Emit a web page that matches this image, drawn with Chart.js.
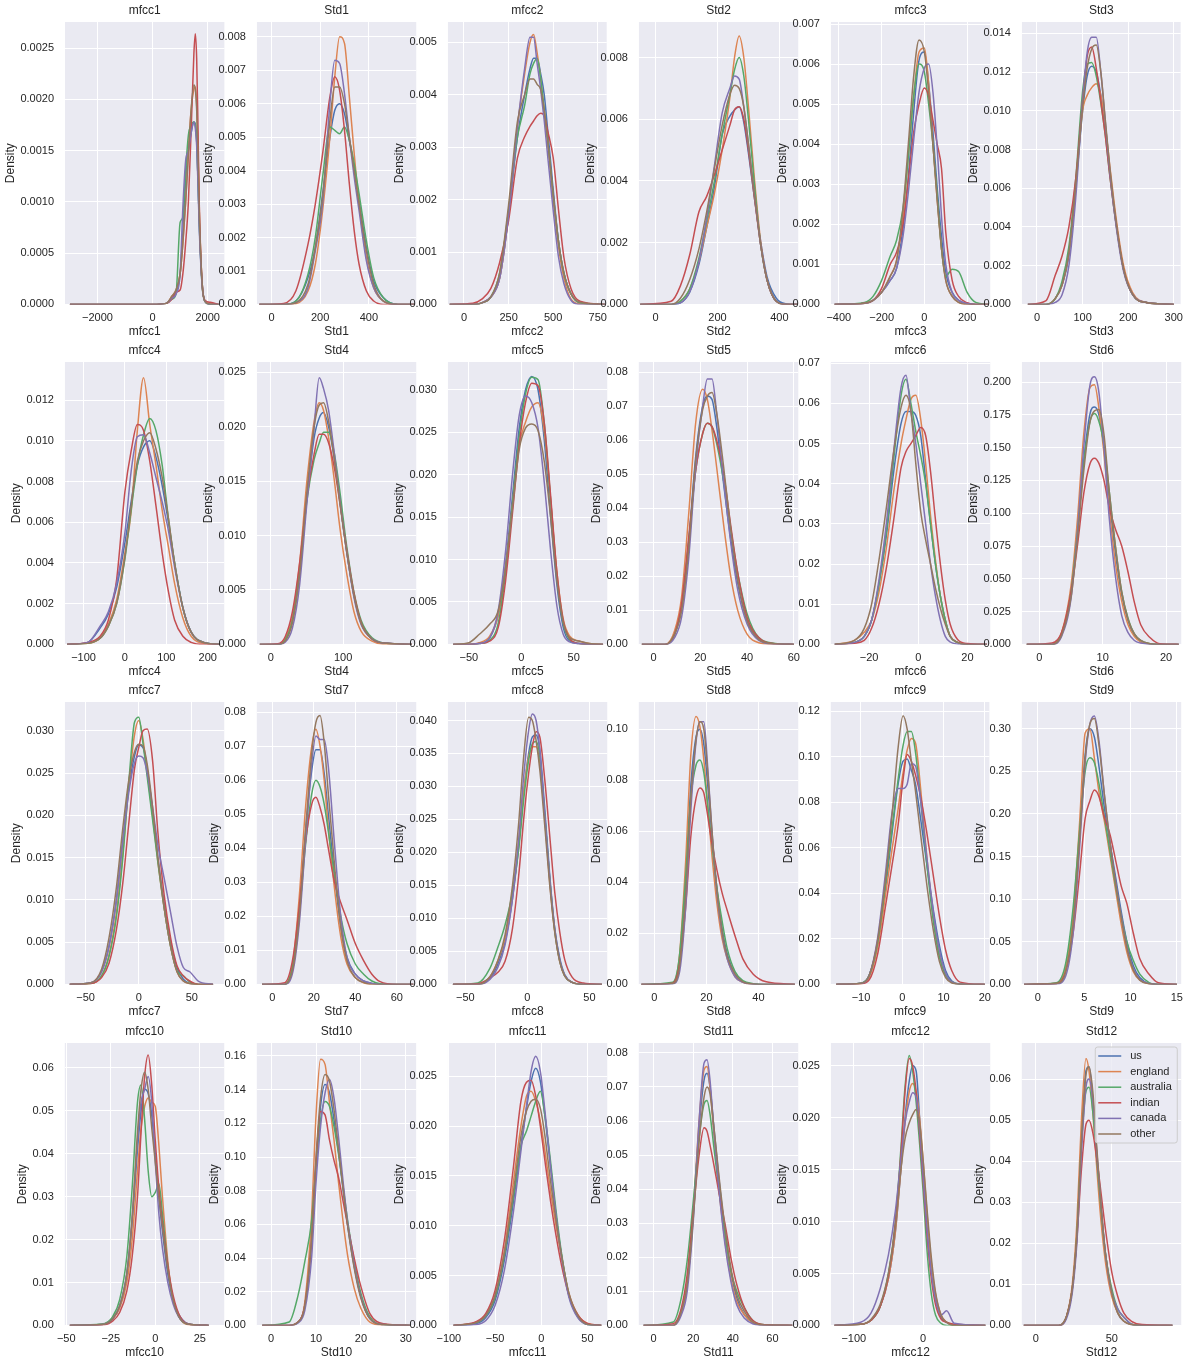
<!DOCTYPE html>
<html><head><meta charset="utf-8">
<script src="https://cdn.jsdelivr.net/npm/chart.js@4/dist/chart.umd.min.js"></script>
<style>
html,body{margin:0;padding:0;background:#ffffff;}
#fig{position:relative;width:1189px;height:1366px;overflow:hidden;background:#ffffff;}
.cell{position:absolute;}
.cell canvas{display:block;}
</style>
</head><body><div id="fig"></div>
<script>
// ---------------- DATA ----------------
const panelNames = ["mfcc1","Std1","mfcc2","Std2","mfcc3","Std3",
  "mfcc4","Std4","mfcc5","Std5","mfcc6","Std6",
  "mfcc7","Std7","mfcc8","Std8","mfcc9","Std9",
  "mfcc10","Std10","mfcc11","Std11","mfcc12","Std12"];
const seriesNames = ["us","england","australia","indian","canada","other"];
const seriesColors = ["#4C72B0","#DD8452","#55A868","#C44E52","#8172B3","#937860"];

// x positions at which each panel's curves were read
const xGrid = [
 [-3000,0,500,700,850,1000,1100,1200,1300,1400,1500,1550,1600,1650,1700,1800,1900,2100,2400],
 [-50,50,100,150,180,210,240,260,280,300,320,340,360,390,420,460,520,590],
 [-80,50,100,150,200,250,300,340,370,390,410,430,450,470,500,530,560,600,650,790],
 [-50,50,80,110,140,165,190,215,240,255,270,285,300,320,340,360,390,420,460],
 [-420,-280,-240,-200,-160,-130,-100,-75,-50,-25,0,20,40,60,80,100,130,160,200,240,300],
 [-20,20,40,55,70,85,100,110,120,130,140,150,160,175,190,210,240,300],
 [-140,-90,-60,-40,-20,0,15,30,45,60,75,90,105,120,140,160,190,230],
 [-15,10,20,30,40,50,60,67,73,80,88,96,105,115,125,140,160,195],
 [-65,-50,-40,-30,-22,-15,-8,-2,4,10,16,22,28,34,40,46,55,65,78],
 [-5,5,9,12,15,18,21,23,25,27,30,33,36,40,45,52,60],
 [-34,-26,-22,-19,-16,-13,-10,-7,-5,-3,-1,1,3,5,7,9,11,13,16,20,28],
 [-2,2,3.5,5,6,7,8,8.7,9.4,10.2,11,12,13,14,15,16,17.5,19,22],
 [-65,-45,-35,-28,-21,-15,-9,-4,0,4,8,13,18,24,30,36,42,48,56,70],
 [-5,6,10,13,16,19,21,23,25,27,30,33,36,40,44,48,52,60,68],
 [-60,-40,-30,-24,-18,-12,-7,-3,1,4,7,10,14,18,22,26,30,36,45,60],
 [-5,7,9.5,12,14,16,17.5,19,20.5,22,24,26,28,31,34,38,43,54],
 [-16,-10,-8,-6,-4,-2.5,-1,0.2,1.2,2.2,3.2,4.5,6,7.5,9,10.5,12,14,20],
 [-1.5,2,3,3.8,4.5,5.1,5.6,6.1,6.6,7.2,7.8,8.4,9,9.6,10.3,11,12,13,15],
 [-48,-30,-24,-20,-16,-13,-10,-8,-6,-4,-2,0,2,4,7,10,14,20,30],
 [-2,4,6,7.5,9,10,11,12,13,14,15,16,17,18.5,20,22,25,31],
 [-95,-70,-60,-50,-40,-30,-22,-16,-11,-6,-1,4,10,16,22,30,40,50,65],
 [-5,10,14,17,20,23,25.5,27,28.5,30.5,33,36,39,42,46,50,56,70],
 [-128,-90,-75,-62,-50,-40,-32,-26,-20,-15,-10,-5,0,6,12,18,26,34,45,90],
 [-8,15,20,24,27,30,33,35,37.5,40,43,46,50,54,58,63,70,90]
];

const us = [
 [0,0,0.00001,0.00006,0.00012,0.0003,0.0007,0.0012,0.0015,0.00168,0.00178,0.00176,0.0016,0.0012,0.00075,0.0002,0.00003,0,0],
 [0,0,0.0001,0.0008,0.0017,0.0033,0.005,0.0058,0.006,0.0057,0.0049,0.0041,0.0031,0.0017,0.0007,0.0002,0,0],
 [0,0,0.00003,0.00014,0.0005,0.0017,0.0032,0.004,0.0045,0.0047,0.0047,0.0044,0.004,0.0033,0.0022,0.0012,0.0006,0.0002,0.00003,0],
 [0,0,0.00005,0.0004,0.0013,0.0025,0.0038,0.0055,0.0061,0.0063,0.0064,0.0059,0.0049,0.0034,0.002,0.0009,0.0002,0.00002,0],
 [0,0.00003,0.0001,0.0003,0.0006,0.0009,0.0019,0.0032,0.0048,0.0061,0.0063,0.0055,0.0043,0.0029,0.0017,0.0008,0.0003,0.0001,0.00002,0,0],
 [0,0,0.0003,0.001,0.0025,0.006,0.01,0.0118,0.0123,0.012,0.0108,0.009,0.0068,0.004,0.0018,0.0005,0.0001,0],
 [0,0.0001,0.0008,0.0015,0.0028,0.005,0.007,0.0088,0.0097,0.01,0.0092,0.0078,0.006,0.004,0.0018,0.0006,0.0001,0],
 [0,0,0.0004,0.0022,0.0065,0.0135,0.019,0.0208,0.0213,0.02,0.017,0.013,0.0085,0.0045,0.002,0.0005,0.0001,0],
 [0,0,0.0001,0.0008,0.0035,0.0095,0.018,0.0255,0.03,0.0316,0.03,0.024,0.015,0.007,0.002,0.0004,0.0001,0,0],
 [0,0,0.003,0.011,0.03,0.055,0.07,0.073,0.072,0.064,0.047,0.031,0.018,0.007,0.0015,0.0002,0],
 [0,0.0005,0.002,0.006,0.015,0.027,0.043,0.055,0.058,0.058,0.057,0.052,0.041,0.03,0.02,0.012,0.006,0.002,0.0005,0,0],
 [0,0,0.008,0.04,0.085,0.14,0.176,0.181,0.175,0.15,0.112,0.07,0.038,0.018,0.007,0.002,0.0003,0,0],
 [0,0.0002,0.0015,0.0045,0.01,0.017,0.0235,0.027,0.0283,0.028,0.0255,0.0205,0.015,0.0095,0.005,0.002,0.0006,0.0001,0,0],
 [0,0,0.006,0.022,0.045,0.063,0.069,0.069,0.062,0.05,0.032,0.017,0.008,0.003,0.001,0.0003,0,0,0],
 [0,0,0.001,0.003,0.0065,0.013,0.021,0.029,0.035,0.0375,0.0378,0.0355,0.0265,0.0165,0.0085,0.004,0.0015,0.0003,0,0],
 [0,0.0005,0.008,0.04,0.078,0.097,0.1,0.094,0.078,0.06,0.038,0.022,0.012,0.004,0.001,0.0002,0,0],
 [0,0.0005,0.004,0.018,0.043,0.066,0.088,0.098,0.099,0.094,0.088,0.072,0.052,0.033,0.017,0.006,0.0015,0.0002,0],
 [0,0.001,0.018,0.075,0.175,0.27,0.3,0.29,0.255,0.205,0.165,0.125,0.085,0.05,0.022,0.008,0.001,0,0],
 [0,0.0002,0.0015,0.0045,0.012,0.024,0.041,0.05,0.055,0.054,0.049,0.04,0.03,0.022,0.012,0.006,0.002,0.0002,0],
 [0,0,0.002,0.012,0.05,0.095,0.13,0.143,0.138,0.122,0.103,0.081,0.06,0.035,0.017,0.004,0.0005,0],
 [0,0.0002,0.0008,0.0025,0.0065,0.0125,0.018,0.0218,0.0245,0.0258,0.0245,0.021,0.016,0.011,0.007,0.003,0.0008,0.0001,0],
 [0,0,0.004,0.012,0.032,0.058,0.072,0.074,0.07,0.058,0.043,0.028,0.016,0.008,0.003,0.0008,0.0001,0],
 [0,0.0001,0.0005,0.0018,0.0045,0.009,0.015,0.02,0.0235,0.025,0.0245,0.02,0.015,0.009,0.005,0.0025,0.0008,0.0003,0,0],
 [0,0,0.002,0.009,0.022,0.045,0.062,0.063,0.055,0.042,0.028,0.017,0.008,0.003,0.001,0.0002,0,0]
];
const england = [
 [0,0,0.00001,0.00008,0.00014,0.0003,0.0006,0.001,0.0015,0.0019,0.0021,0.00212,0.00195,0.0015,0.0009,0.0002,0.00003,0.00001,0],
 [0,0,0.00002,0.0004,0.0012,0.0028,0.005,0.0068,0.008,0.0078,0.0062,0.0045,0.003,0.0014,0.0005,0.0001,0,0],
 [0,0,0.00003,0.00014,0.0005,0.0017,0.0034,0.0044,0.005,0.00515,0.0048,0.0043,0.0037,0.0031,0.002,0.0011,0.0005,0.0001,0.00001,0],
 [0,0,0.0001,0.0005,0.0014,0.0025,0.0036,0.005,0.0067,0.008,0.0087,0.008,0.0064,0.004,0.002,0.0008,0.0001,0,0],
 [0,0.00003,0.0001,0.0003,0.0007,0.0011,0.0022,0.0037,0.0052,0.0063,0.0064,0.0055,0.004,0.0026,0.0014,0.0006,0.0002,0.00005,0,0,0],
 [0,0,0.0003,0.001,0.0027,0.0062,0.01,0.0108,0.0112,0.0114,0.0108,0.0092,0.0071,0.0042,0.002,0.0006,0.0001,0],
 [0,0.00005,0.0003,0.001,0.0022,0.0045,0.0065,0.0105,0.0131,0.0108,0.0088,0.0066,0.0048,0.003,0.0013,0.0004,0.00005,0],
 [0,0,0.0005,0.0025,0.0075,0.015,0.0205,0.0222,0.0215,0.019,0.015,0.0105,0.0065,0.003,0.0012,0.0003,0,0],
 [0,0,0.0002,0.001,0.0035,0.009,0.017,0.0235,0.0262,0.028,0.0285,0.025,0.017,0.0085,0.003,0.001,0.0004,0.0001,0],
 [0,0,0.004,0.014,0.038,0.065,0.075,0.072,0.063,0.052,0.035,0.02,0.01,0.003,0.0005,0,0],
 [0,0.001,0.003,0.006,0.013,0.024,0.038,0.05,0.056,0.061,0.062,0.056,0.045,0.032,0.021,0.012,0.006,0.002,0.0005,0,0],
 [0,0,0.009,0.045,0.095,0.16,0.196,0.198,0.18,0.145,0.105,0.062,0.033,0.015,0.006,0.002,0.0003,0,0],
 [0,0.0001,0.001,0.0035,0.0085,0.0155,0.024,0.0295,0.0312,0.029,0.025,0.02,0.0145,0.009,0.0045,0.0015,0.0004,0.0001,0,0],
 [0,0,0.007,0.026,0.052,0.07,0.075,0.07,0.06,0.046,0.028,0.014,0.006,0.002,0.0005,0,0,0,0],
 [0,0,0.0012,0.0035,0.007,0.0135,0.0215,0.029,0.0345,0.036,0.036,0.0335,0.025,0.0155,0.008,0.0035,0.0013,0.0003,0,0],
 [0,0.0005,0.01,0.048,0.09,0.105,0.101,0.088,0.07,0.052,0.032,0.018,0.01,0.003,0.0008,0.0001,0,0],
 [0,0.0004,0.003,0.016,0.04,0.059,0.077,0.093,0.103,0.108,0.106,0.085,0.055,0.03,0.013,0.004,0.001,0.0001,0],
 [0,0.001,0.02,0.08,0.19,0.295,0.3,0.265,0.225,0.19,0.15,0.11,0.07,0.038,0.015,0.005,0.0008,0,0],
 [0,0.0002,0.0015,0.004,0.01,0.02,0.036,0.046,0.051,0.053,0.052,0.051,0.042,0.03,0.015,0.006,0.0015,0.0001,0],
 [0,0,0.002,0.014,0.065,0.125,0.158,0.155,0.132,0.11,0.085,0.062,0.042,0.022,0.01,0.002,0.0002,0],
 [0,0.0003,0.001,0.003,0.0075,0.0145,0.02,0.023,0.0235,0.0225,0.0205,0.0175,0.0135,0.01,0.0068,0.0032,0.001,0.0002,0],
 [0,0,0.004,0.012,0.033,0.06,0.075,0.076,0.07,0.056,0.04,0.025,0.014,0.007,0.003,0.0008,0.0001,0],
 [0,0.0001,0.0005,0.0018,0.0045,0.009,0.015,0.0195,0.0225,0.0233,0.0225,0.02,0.016,0.0105,0.006,0.003,0.001,0.0003,0,0],
 [0,0,0.002,0.01,0.025,0.05,0.065,0.062,0.052,0.039,0.025,0.015,0.007,0.003,0.001,0.0002,0,0]
];
const australia = [
 [0,0,0.00001,0.00005,0.0001,0.0008,0.00085,0.0013,0.00165,0.00175,0.00178,0.00175,0.0016,0.0012,0.00075,0.00018,0.00003,0,0],
 [0,0,0.0001,0.0009,0.002,0.0038,0.0053,0.0052,0.0051,0.0053,0.0049,0.0042,0.0033,0.0019,0.0008,0.0002,0,0],
 [0,0,0.00003,0.00014,0.0006,0.0018,0.0032,0.0038,0.0044,0.0046,0.0047,0.0043,0.0037,0.0031,0.0021,0.0012,0.0006,0.0002,0.00003,0],
 [0,0,0.0001,0.0005,0.0015,0.0027,0.004,0.0055,0.0068,0.0076,0.008,0.0074,0.006,0.0038,0.0019,0.0008,0.0001,0,0],
 [0,0.00005,0.0002,0.0006,0.0012,0.0016,0.0024,0.0037,0.0052,0.006,0.0058,0.005,0.004,0.0027,0.0014,0.0007,0.00088,0.00082,0.0003,0.00005,0],
 [0,0,0.0003,0.0012,0.003,0.0065,0.011,0.0124,0.0125,0.0118,0.0104,0.0087,0.0066,0.0039,0.0018,0.0005,0.0001,0],
 [0,0.00005,0.0003,0.0009,0.002,0.0042,0.0066,0.0088,0.0103,0.0111,0.0105,0.0088,0.0062,0.004,0.0018,0.0006,0.0001,0],
 [0,0,0.0004,0.0022,0.0068,0.0132,0.017,0.0185,0.0195,0.0195,0.0175,0.0138,0.009,0.0048,0.0022,0.0006,0.0001,0],
 [0,0,0.0001,0.0005,0.0025,0.0085,0.017,0.0245,0.0295,0.0315,0.0312,0.026,0.017,0.008,0.0025,0.0006,0.0001,0,0],
 [0,0,0.003,0.011,0.03,0.051,0.062,0.065,0.064,0.059,0.048,0.034,0.021,0.009,0.002,0.0003,0],
 [0,0.0005,0.002,0.006,0.015,0.028,0.046,0.062,0.066,0.06,0.053,0.047,0.04,0.03,0.02,0.012,0.006,0.002,0.0005,0,0],
 [0,0,0.008,0.04,0.085,0.138,0.17,0.176,0.17,0.152,0.118,0.075,0.04,0.02,0.008,0.003,0.0005,0,0],
 [0,0.0001,0.001,0.0033,0.008,0.015,0.0245,0.031,0.0316,0.0285,0.0245,0.0195,0.0145,0.009,0.0045,0.0016,0.001,0.0003,0,0],
 [0,0,0.006,0.021,0.041,0.056,0.06,0.058,0.053,0.045,0.032,0.02,0.012,0.006,0.003,0.001,0.0002,0,0],
 [0,0.0002,0.0025,0.0055,0.009,0.014,0.0205,0.028,0.034,0.0365,0.0368,0.0345,0.0255,0.016,0.0082,0.0036,0.0013,0.0003,0,0],
 [0,0.0008,0.01,0.042,0.073,0.086,0.088,0.083,0.07,0.056,0.038,0.025,0.014,0.005,0.0015,0.0003,0,0],
 [0,0.0005,0.004,0.018,0.045,0.068,0.09,0.105,0.111,0.111,0.102,0.08,0.052,0.028,0.012,0.004,0.001,0.0001,0],
 [0,0.002,0.025,0.09,0.18,0.25,0.266,0.26,0.235,0.195,0.155,0.115,0.08,0.05,0.028,0.012,0.002,0,0],
 [0,0.0003,0.002,0.006,0.016,0.032,0.052,0.056,0.048,0.036,0.03,0.031,0.033,0.026,0.014,0.006,0.0015,0.0002,0],
 [0,0.002,0.018,0.038,0.062,0.095,0.122,0.133,0.13,0.118,0.102,0.083,0.063,0.038,0.019,0.005,0.0005,0],
 [0,0.0003,0.001,0.0028,0.007,0.013,0.018,0.0195,0.021,0.0225,0.0235,0.021,0.0165,0.0115,0.0072,0.003,0.0008,0.0001,0],
 [0,0.001,0.008,0.019,0.036,0.055,0.065,0.066,0.062,0.052,0.04,0.027,0.016,0.01,0.005,0.0015,0.0002,0],
 [0,0.0001,0.0005,0.0018,0.005,0.01,0.017,0.023,0.026,0.0245,0.0215,0.0175,0.013,0.007,0.003,0.001,0.0002,0,0,0],
 [0,0,0.002,0.009,0.022,0.044,0.057,0.058,0.052,0.041,0.028,0.017,0.009,0.004,0.002,0.0003,0,0]
];
const indian = [
 [0,0,0.00001,0.00005,0.00012,0.00014,0.0003,0.0006,0.001,0.0017,0.00245,0.00264,0.0024,0.0017,0.0009,0.0002,0.00004,0.00002,0],
 [0,0.00003,0.0004,0.0018,0.003,0.0045,0.0062,0.0068,0.0064,0.0052,0.0036,0.0022,0.0012,0.0004,0.0001,0,0,0],
 [0,0.00002,0.0001,0.0003,0.0008,0.0016,0.0028,0.0032,0.0034,0.0035,0.0036,0.00365,0.0036,0.0033,0.0028,0.0018,0.0009,0.0003,0.00006,0],
 [0,0.0001,0.0006,0.0016,0.003,0.0035,0.0042,0.005,0.0058,0.0063,0.0064,0.006,0.005,0.0034,0.0019,0.0008,0.0001,0,0],
 [0,0.00003,0.0001,0.0004,0.001,0.0013,0.002,0.0031,0.0043,0.005,0.0054,0.0052,0.0046,0.004,0.0034,0.0018,0.0006,0.0002,0.00004,0,0],
 [0,0.0002,0.0015,0.0025,0.004,0.0065,0.0105,0.0128,0.0133,0.0122,0.0105,0.0087,0.0066,0.0039,0.0018,0.0005,0.0001,0],
 [0,0.0001,0.0004,0.0012,0.0032,0.0075,0.0095,0.0108,0.0105,0.009,0.0068,0.0045,0.0026,0.0012,0.0004,0.0001,0,0],
 [0,0.00005,0.0007,0.003,0.0075,0.0135,0.0175,0.0193,0.0193,0.0185,0.0162,0.0128,0.0087,0.0047,0.002,0.0005,0.0001,0],
 [0,0,0.0001,0.0004,0.002,0.0075,0.016,0.0235,0.0285,0.0308,0.0305,0.026,0.0175,0.0085,0.0028,0.0007,0.0001,0,0],
 [0,0,0.003,0.012,0.031,0.051,0.062,0.065,0.064,0.06,0.05,0.035,0.021,0.008,0.002,0.0002,0],
 [0,0.0003,0.001,0.004,0.01,0.019,0.031,0.044,0.048,0.05,0.052,0.054,0.052,0.043,0.031,0.02,0.011,0.005,0.0012,0.0002,0],
 [0,0.001,0.009,0.04,0.075,0.115,0.138,0.142,0.138,0.125,0.105,0.088,0.075,0.055,0.032,0.015,0.005,0.0005,0],
 [0,0.0001,0.0008,0.0025,0.0065,0.012,0.0195,0.0255,0.028,0.03,0.0302,0.0265,0.018,0.0105,0.0055,0.0022,0.001,0.0004,0,0],
 [0,0.0005,0.008,0.023,0.042,0.053,0.055,0.052,0.047,0.04,0.03,0.024,0.019,0.012,0.007,0.003,0.0008,0,0],
 [0,0.0001,0.001,0.0018,0.0035,0.0085,0.0165,0.025,0.032,0.036,0.0383,0.0375,0.031,0.0225,0.014,0.008,0.0038,0.0011,0.0002,0],
 [0,0.0005,0.007,0.03,0.058,0.073,0.077,0.075,0.066,0.056,0.045,0.036,0.029,0.019,0.01,0.004,0.001,0],
 [0,0.0003,0.002,0.013,0.035,0.052,0.07,0.09,0.101,0.098,0.092,0.082,0.066,0.048,0.03,0.015,0.006,0.001,0],
 [0,0.001,0.015,0.06,0.13,0.195,0.215,0.228,0.22,0.195,0.175,0.145,0.115,0.095,0.06,0.03,0.012,0.002,0],
 [0,0.0001,0.001,0.003,0.008,0.016,0.03,0.045,0.058,0.063,0.056,0.043,0.032,0.024,0.014,0.007,0.002,0.0002,0],
 [0,0,0.002,0.012,0.05,0.098,0.127,0.125,0.11,0.098,0.088,0.074,0.06,0.04,0.023,0.007,0.001,0],
 [0,0.0004,0.0012,0.0035,0.0085,0.016,0.0225,0.0244,0.0246,0.023,0.02,0.0165,0.0125,0.009,0.006,0.003,0.001,0.0002,0],
 [0,0.0005,0.005,0.015,0.033,0.05,0.058,0.057,0.053,0.047,0.039,0.03,0.02,0.012,0.005,0.0015,0.0002,0],
 [0,0.0001,0.0005,0.0018,0.0048,0.0098,0.0165,0.0225,0.0257,0.025,0.0225,0.0185,0.014,0.0085,0.0045,0.002,0.0006,0.0003,0.0001,0],
 [0,0,0.002,0.009,0.021,0.038,0.049,0.05,0.047,0.041,0.032,0.023,0.013,0.007,0.003,0.001,0.0002,0]
];
const canada = [
 [0,0,0.00001,0.00006,0.0001,0.0003,0.00095,0.0014,0.0015,0.00167,0.00178,0.00172,0.00155,0.00115,0.0007,0.00018,0.00003,0,0],
 [0,0,0.00005,0.0005,0.0016,0.003,0.006,0.0073,0.0072,0.0063,0.005,0.0038,0.0028,0.0013,0.0005,0.0001,0,0],
 [0,0,0.00003,0.00014,0.0005,0.0017,0.0034,0.0045,0.0051,0.0051,0.0046,0.0041,0.0035,0.0028,0.0018,0.0009,0.0004,0.00008,0,0],
 [0,0,0.00005,0.0004,0.0014,0.0028,0.0045,0.0062,0.007,0.0074,0.0073,0.0064,0.0052,0.0035,0.0019,0.0008,0.0001,0,0],
 [0,0.00002,0.0001,0.0003,0.0006,0.0009,0.0017,0.0028,0.0041,0.0053,0.0059,0.006,0.0053,0.0039,0.0022,0.001,0.0003,0.0001,0.00002,0,0],
 [0,0,0.0001,0.0005,0.002,0.0055,0.0105,0.013,0.0138,0.0138,0.012,0.0094,0.0068,0.0038,0.0017,0.0005,0.0001,0],
 [0,0.0001,0.0009,0.0016,0.003,0.0055,0.0085,0.0102,0.0103,0.0094,0.0082,0.007,0.0056,0.0038,0.0018,0.0006,0.0001,0],
 [0,0,0.0002,0.0015,0.0055,0.013,0.02,0.0245,0.0235,0.0215,0.0175,0.013,0.0085,0.0043,0.0018,0.0005,0.0001,0],
 [0,0,0.0001,0.0008,0.004,0.011,0.0205,0.027,0.0293,0.0285,0.0255,0.019,0.011,0.0045,0.0012,0.0003,0.0001,0,0],
 [0,0,0.002,0.008,0.025,0.052,0.07,0.078,0.078,0.068,0.048,0.03,0.016,0.006,0.0012,0.0001,0],
 [0,0.0005,0.002,0.006,0.016,0.03,0.048,0.064,0.067,0.058,0.05,0.04,0.03,0.02,0.012,0.006,0.002,0.0006,0.0001,0,0],
 [0,0,0.006,0.035,0.085,0.15,0.198,0.204,0.192,0.15,0.098,0.052,0.022,0.009,0.003,0.001,0.0002,0,0],
 [0,0.0002,0.0015,0.0045,0.01,0.017,0.023,0.0262,0.027,0.0268,0.025,0.021,0.0165,0.0125,0.0085,0.0045,0.002,0.0015,0.0004,0],
 [0,0,0.004,0.018,0.042,0.065,0.073,0.072,0.072,0.064,0.041,0.02,0.008,0.003,0.001,0.0003,0,0,0],
 [0,0,0.0008,0.0025,0.006,0.013,0.022,0.0315,0.0385,0.041,0.04,0.0355,0.0255,0.016,0.0085,0.0038,0.0014,0.0003,0,0],
 [0,0.0002,0.004,0.03,0.068,0.095,0.103,0.103,0.085,0.062,0.036,0.02,0.01,0.003,0.0008,0.0001,0,0],
 [0,0.0005,0.004,0.02,0.05,0.075,0.086,0.086,0.088,0.097,0.096,0.08,0.055,0.032,0.015,0.005,0.001,0.0001,0],
 [0,0.0005,0.01,0.06,0.16,0.26,0.305,0.315,0.285,0.22,0.165,0.12,0.08,0.045,0.018,0.006,0.001,0,0],
 [0,0.0002,0.0015,0.0045,0.012,0.025,0.043,0.052,0.055,0.058,0.052,0.038,0.026,0.018,0.01,0.005,0.0015,0.0002,0],
 [0,0,0.0015,0.009,0.04,0.085,0.118,0.138,0.146,0.135,0.112,0.086,0.062,0.036,0.017,0.004,0.0005,0],
 [0,0.0001,0.0005,0.002,0.0055,0.0115,0.0175,0.022,0.0255,0.027,0.0255,0.0215,0.016,0.011,0.0068,0.0028,0.0007,0.0001,0],
 [0,0,0.003,0.01,0.03,0.06,0.077,0.078,0.072,0.057,0.04,0.024,0.013,0.006,0.002,0.0005,0,0],
 [0,0.0003,0.0012,0.0035,0.0068,0.011,0.016,0.0195,0.0215,0.0224,0.022,0.019,0.0145,0.009,0.005,0.0025,0.001,0.0014,0.0002,0],
 [0,0,0.0015,0.008,0.02,0.042,0.058,0.06,0.055,0.043,0.029,0.017,0.008,0.004,0.002,0.0003,0,0]
];
const other = [
 [0,0,0.00001,0.00008,0.00014,0.0003,0.0006,0.001,0.00145,0.0019,0.00214,0.0021,0.0019,0.00145,0.00085,0.0002,0.00003,0,0],
 [0,0,0.00005,0.0006,0.0017,0.0032,0.0055,0.0065,0.0065,0.006,0.005,0.004,0.003,0.0016,0.0006,0.0001,0,0],
 [0,0,0.00003,0.00014,0.0006,0.0019,0.0035,0.004,0.0043,0.0043,0.0042,0.0041,0.0037,0.0031,0.0021,0.0012,0.0006,0.0002,0.00004,0],
 [0,0,0.0002,0.0008,0.0018,0.003,0.0044,0.0058,0.0068,0.0071,0.007,0.0064,0.0052,0.0035,0.0019,0.0008,0.0001,0,0],
 [0,0.00003,0.0001,0.0003,0.0007,0.0011,0.0024,0.004,0.0057,0.0066,0.0063,0.0053,0.004,0.0026,0.0014,0.0006,0.0002,0.00005,0,0,0],
 [0,0,0.0003,0.001,0.0027,0.0062,0.0102,0.0122,0.0132,0.0134,0.012,0.0095,0.007,0.004,0.0018,0.0005,0.0001,0],
 [0,0.00005,0.0003,0.0009,0.002,0.0043,0.0068,0.009,0.01,0.0104,0.0096,0.0082,0.0062,0.004,0.0018,0.0006,0.0001,0],
 [0,0,0.0003,0.002,0.0065,0.014,0.02,0.022,0.0222,0.0205,0.017,0.0128,0.0085,0.0045,0.0019,0.0005,0.0001,0],
 [0,0.0002,0.0012,0.0024,0.004,0.009,0.0165,0.023,0.0255,0.026,0.0252,0.0215,0.015,0.0075,0.0026,0.0008,0.0004,0.0001,0],
 [0,0,0.003,0.01,0.028,0.054,0.069,0.073,0.074,0.068,0.052,0.034,0.019,0.007,0.0015,0.0002,0],
 [0,0.001,0.004,0.01,0.021,0.034,0.048,0.059,0.062,0.058,0.045,0.033,0.026,0.02,0.014,0.009,0.005,0.002,0.0005,0,0],
 [0,0,0.007,0.036,0.08,0.132,0.17,0.178,0.179,0.16,0.118,0.075,0.04,0.019,0.008,0.003,0.0005,0,0],
 [0,0.0002,0.0018,0.0055,0.0115,0.0185,0.0245,0.0275,0.0284,0.0282,0.026,0.021,0.015,0.009,0.0045,0.0015,0.0004,0.0001,0,0],
 [0,0,0.005,0.02,0.045,0.068,0.077,0.079,0.071,0.056,0.035,0.017,0.007,0.002,0.0006,0,0,0,0],
 [0,0,0.0012,0.0035,0.0075,0.015,0.0245,0.0345,0.0405,0.04,0.037,0.0325,0.024,0.015,0.008,0.0035,0.0013,0.0003,0,0],
 [0,0.0004,0.006,0.035,0.073,0.096,0.103,0.1,0.083,0.062,0.037,0.021,0.011,0.004,0.001,0.0002,0,0],
 [0,0.0005,0.004,0.019,0.047,0.074,0.104,0.118,0.112,0.098,0.085,0.065,0.043,0.024,0.01,0.003,0.0006,0.0001,0],
 [0,0.001,0.015,0.07,0.17,0.265,0.305,0.312,0.28,0.22,0.165,0.118,0.078,0.043,0.017,0.005,0.0008,0,0],
 [0,0.0002,0.0015,0.0045,0.012,0.025,0.045,0.055,0.059,0.055,0.046,0.038,0.03,0.023,0.013,0.006,0.0015,0.0002,0],
 [0,0,0.002,0.012,0.052,0.1,0.135,0.149,0.145,0.128,0.105,0.082,0.06,0.034,0.016,0.004,0.0005,0],
 [0,0.0003,0.001,0.003,0.0072,0.0135,0.019,0.0215,0.0225,0.0227,0.0218,0.019,0.0145,0.0105,0.007,0.0032,0.0009,0.0001,0],
 [0,0,0.004,0.012,0.031,0.054,0.067,0.07,0.068,0.058,0.044,0.029,0.017,0.009,0.004,0.001,0.0001,0],
 [0,0.0001,0.0006,0.002,0.005,0.0095,0.015,0.018,0.0195,0.0203,0.0208,0.0195,0.016,0.011,0.0065,0.0032,0.001,0.0003,0,0],
 [0,0,0.002,0.009,0.022,0.045,0.061,0.063,0.057,0.044,0.029,0.017,0.008,0.003,0.001,0.0002,0,0]
];

// axis limits
const xLimits = [[-3176,2606],[-60,595],[-90,800],[-54,461],[-437,308],[-33,315],
 [-145,240],[-19,201],[-70,82],[-6.3,61.9],[-35.6,29.3],[-2.76,22.4],
 [-69.5,80.5],[-7.5,69.4],[-64,64.3],[-6,55.3],[-17.3,21.1],[-1.74,15.47],
 [-50.8,38.7],[-3.2,32.3],[-101,71.4],[-7.4,73],[-133,97],[-9.3,95.8]];
const yTop = [0.002754,0.00844,0.00539,0.00915,0.00705,0.01459,
 0.01387,0.02595,0.0333,0.083,0.0703,0.2153,
 0.0334,0.083,0.0428,0.1107,0.124,0.3313,
 0.0658,0.1677,0.02834,0.0829,0.0272,0.0688];

// tick labels
const xTickLabels = [[-2000,0,2000],[0,200,400],[0,250,500,750],[0,200,400],[-400,-200,0,200],[0,100,200,300],
 [-100,0,100,200],[0,100],[-50,0,50],[0,20,40,60],[-20,0,20],[0,10,20],
 [-50,0,50],[0,20,40,60],[-50,0,50],[0,20,40],[-10,0,10,20],[0,5,10,15],
 [-50,-25,0,25],[0,10,20,30],[-100,-50,0,50],[0,20,40,60],[-100,0],[0,50]];
const yA = ["0.000","0.005","0.010","0.015","0.020","0.025","0.030"];
const yB = ["0.00","0.01","0.02","0.03","0.04","0.05","0.06","0.07","0.08"];
const yTickLabels = [
 ["0.0000","0.0005","0.0010","0.0015","0.0020","0.0025"],
 ["0.000","0.001","0.002","0.003","0.004","0.005","0.006","0.007","0.008"],
 ["0.000","0.001","0.002","0.003","0.004","0.005"],
 ["0.000","0.002","0.004","0.006","0.008"],
 ["0.000","0.001","0.002","0.003","0.004","0.005","0.006","0.007"],
 ["0.000","0.002","0.004","0.006","0.008","0.010","0.012","0.014"],
 ["0.000","0.002","0.004","0.006","0.008","0.010","0.012"],
 ["0.000","0.005","0.010","0.015","0.020","0.025"],
 yA,
 yB,
 ["0.00","0.01","0.02","0.03","0.04","0.05","0.06","0.07"],
 ["0.000","0.025","0.050","0.075","0.100","0.125","0.150","0.175","0.200"],
 yA,
 yB,
 ["0.000","0.005","0.010","0.015","0.020","0.025","0.030","0.035","0.040"],
 ["0.00","0.02","0.04","0.06","0.08","0.10"],
 ["0.00","0.02","0.04","0.06","0.08","0.10","0.12"],
 ["0.00","0.05","0.10","0.15","0.20","0.25","0.30"],
 ["0.00","0.01","0.02","0.03","0.04","0.05","0.06"],
 ["0.00","0.02","0.04","0.06","0.08","0.10","0.12","0.14","0.16"],
 ["0.000","0.005","0.010","0.015","0.020","0.025"],
 yB,
 ["0.000","0.005","0.010","0.015","0.020","0.025"],
 ["0.00","0.01","0.02","0.03","0.04","0.05","0.06"]
];

// ---------------- LAYOUT / STYLE ----------------
const PLOT_LEFT = [65,257,448,639,831,1022];
const PLOT_TOP = [22,362,702,1043];
const PLOT_W = 159, PLOT_H = 282;
const TEXT = '#262626';
const FONT = "'Liberation Sans', Arial, Helvetica, sans-serif";
const X_TICK_PAD = 7, Y_TICK_PAD = 11;
const allSeries = [us, england, australia, indian, canada, other];

Chart.defaults.font.family = FONT;
Chart.defaults.color = TEXT;

const bgPlugin = {
  id: 'axbg',
  beforeDraw(c) {
    const a = c.chartArea, ctx = c.ctx;
    ctx.save(); ctx.fillStyle = '#EAEAF2';
    ctx.fillRect(a.left, a.top, a.right - a.left, a.bottom - a.top);
    ctx.restore();
  }
};
const titlePlugin = {
  id: 'ptitle',
  afterDraw(c, args, opts) {
    const a = c.chartArea, ctx = c.ctx;
    ctx.save();
    ctx.font = "12px " + FONT; ctx.fillStyle = TEXT;
    ctx.textAlign = 'center'; ctx.textBaseline = 'middle';
    ctx.fillText(opts.text, (a.left + a.right) / 2, a.top - 11);
    ctx.restore();
  }
};
const legendPlugin = {
  id: 'kdeLegend',
  afterDraw(c, args, opts) {
    if (!opts.show) return;
    const a = c.chartArea, ctx = c.ctx;
    const bw = 82, bh = 96, x0 = a.right - 4 - bw, y0 = a.top + 4, r = 2.5;
    ctx.save();
    ctx.beginPath();
    ctx.moveTo(x0 + r, y0); ctx.lineTo(x0 + bw - r, y0); ctx.quadraticCurveTo(x0 + bw, y0, x0 + bw, y0 + r);
    ctx.lineTo(x0 + bw, y0 + bh - r); ctx.quadraticCurveTo(x0 + bw, y0 + bh, x0 + bw - r, y0 + bh);
    ctx.lineTo(x0 + r, y0 + bh); ctx.quadraticCurveTo(x0, y0 + bh, x0, y0 + bh - r);
    ctx.lineTo(x0, y0 + r); ctx.quadraticCurveTo(x0, y0, x0 + r, y0); ctx.closePath();
    ctx.fillStyle = 'rgba(234,234,242,0.8)'; ctx.fill();
    ctx.strokeStyle = '#CCCCCC'; ctx.lineWidth = 1; ctx.stroke();
    ctx.font = "11px " + FONT; ctx.textBaseline = 'middle'; ctx.textAlign = 'left';
    seriesNames.forEach((n, i) => {
      const y = y0 + 9 + i * 15.6;
      ctx.strokeStyle = seriesColors[i]; ctx.lineWidth = 1.5;
      ctx.beginPath(); ctx.moveTo(x0 + 3, y); ctx.lineTo(x0 + 26, y); ctx.stroke();
      ctx.fillStyle = TEXT; ctx.fillText(n, x0 + 35, y);
    });
    ctx.restore();
  }
};

function fmtX(v) { return v < 0 ? '\u2212' + Math.abs(v) : String(v); }

const fig = document.getElementById('fig');
panelNames.forEach((name, p) => {
  const col = p % 6, row = Math.floor(p / 6);
  const wrap = document.createElement('div');
  wrap.className = 'cell';
  const canvas = document.createElement('canvas');
  canvas.width = 250; canvas.height = 345;
  wrap.appendChild(canvas);
  fig.appendChild(wrap);
  const xs = xGrid[p];
  const yt = yTickLabels[p];
  const xt = xTickLabels[p];
  const datasets = allSeries.map((s, i) => ({
    label: seriesNames[i],
    data: xs.map((x, k) => ({ x: x, y: s[p][k] })),
    borderColor: seriesColors[i],
    backgroundColor: seriesColors[i],
    borderWidth: 1.5,
    pointRadius: 0,
    fill: false,
    cubicInterpolationMode: 'monotone',
    order: 5 - i
  }));
  const chart = new Chart(canvas, {
    type: 'line',
    data: { datasets },
    plugins: [bgPlugin, titlePlugin, legendPlugin],
    options: {
      responsive: false,
      maintainAspectRatio: false,
      devicePixelRatio: 1,
      animation: false,
      events: [],
      layout: { padding: { top: 22, left: 0, right: 0, bottom: 0 } },
      plugins: {
        legend: { display: false },
        tooltip: { enabled: false },
        ptitle: { text: name },
        kdeLegend: { show: p === panelNames.length - 1 }
      },
      scales: {
        x: {
          type: 'linear', min: xLimits[p][0], max: xLimits[p][1],
          afterBuildTicks: s => { s.ticks = xt.map(v => ({ value: v })); },
          afterFit: s => { s.height -= X_TICK_PAD; },
          ticks: { callback: v => fmtX(v), font: { size: 11 }, color: TEXT, padding: X_TICK_PAD, maxRotation: 0, autoSkip: false },
          grid: { color: '#ffffff', lineWidth: 1, drawTicks: false },
          border: { display: false },
          title: { display: true, text: name, font: { size: 12 }, color: TEXT, padding: { top: 0, bottom: 0 } }
        },
        y: {
          type: 'linear', min: 0, max: yTop[p],
          afterBuildTicks: s => { s.ticks = yt.map(t => ({ value: parseFloat(t) })); },
          afterFit: s => { s.width -= Y_TICK_PAD; },
          ticks: { callback: (v, i) => yt[i], font: { size: 11 }, color: TEXT, padding: Y_TICK_PAD, autoSkip: false },
          grid: { color: '#ffffff', lineWidth: 1, drawTicks: false },
          border: { display: false },
          title: { display: true, text: 'Density', font: { size: 12 }, color: TEXT, padding: { top: 0, bottom: 3 } }
        }
      }
    }
  });
  for (let k = 0; k < 5; k++) {
    const a = chart.chartArea;
    const W = chart.width, H = chart.height;
    const l = a.left, t = a.top, r = W - a.right, b = H - a.bottom;
    const nW = Math.round(l + PLOT_W + r), nH = Math.round(t + PLOT_H + b);
    wrap.style.left = Math.round(PLOT_LEFT[col] - l) + 'px';
    wrap.style.top = Math.round(PLOT_TOP[row] - t) + 'px';
    if (nW === W && nH === H) break;
    chart.resize(nW, nH);
  }
});
</script>
</body></html>
